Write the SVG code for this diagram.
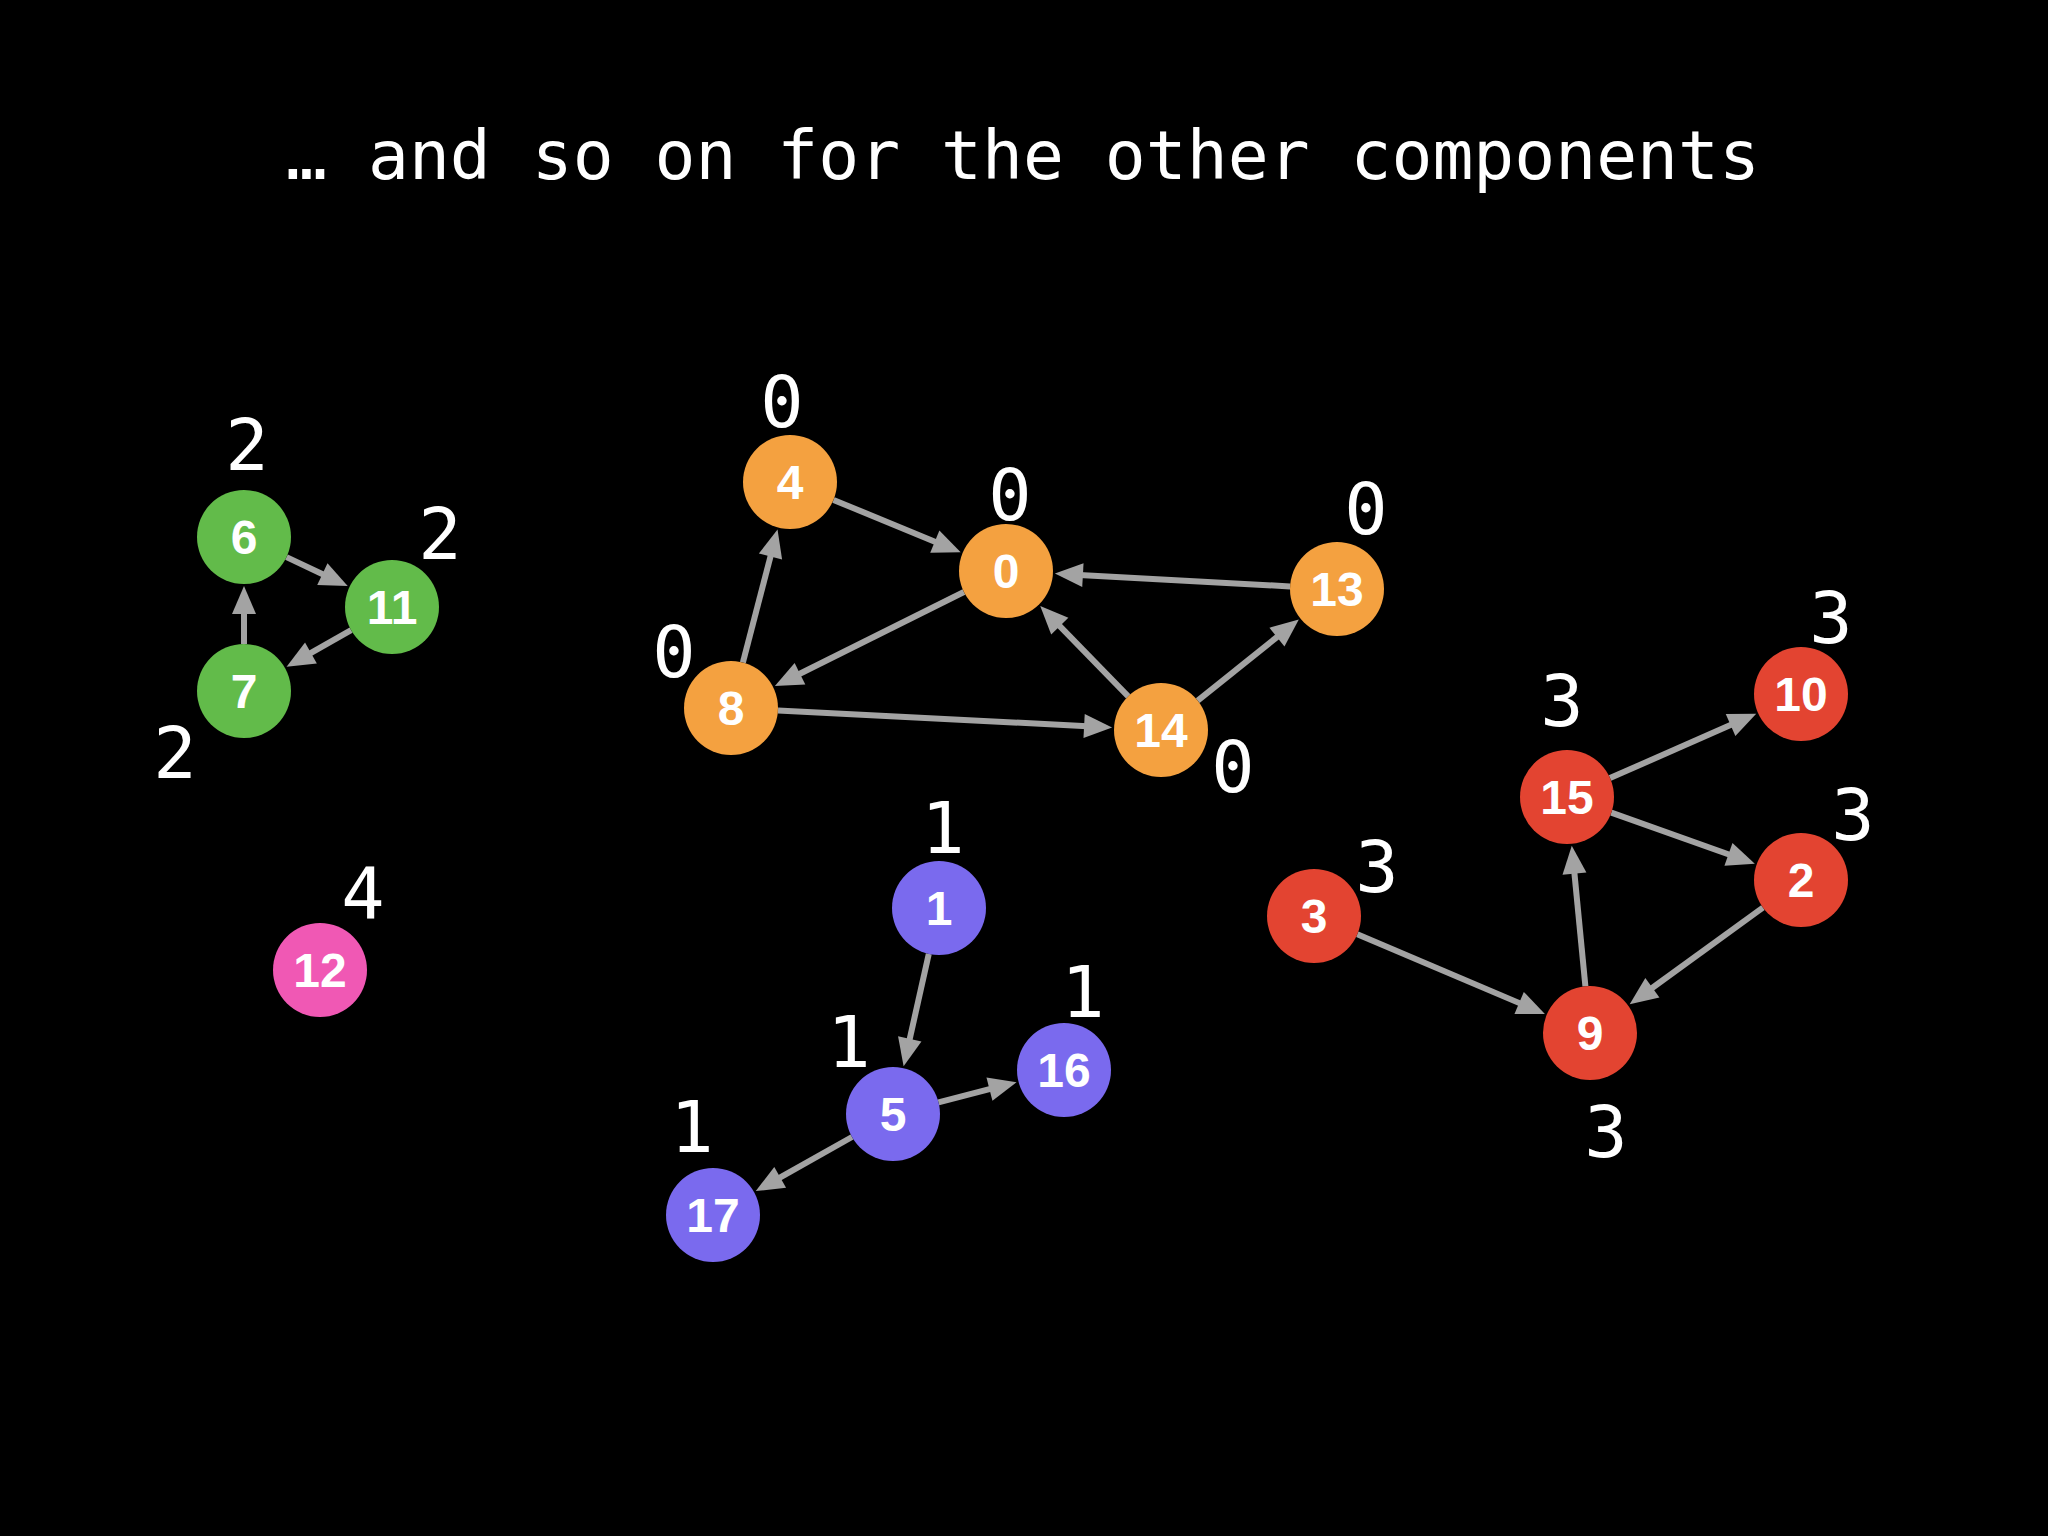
<svg xmlns="http://www.w3.org/2000/svg" width="2048" height="1536" viewBox="0 0 2048 1536">
<style>
.title{font-family:"DejaVu Sans Mono","Liberation Mono",monospace;font-size:68px;fill:#fff;text-anchor:middle}
.cl{font-family:"DejaVu Sans Mono","Liberation Mono",monospace;font-size:72px;fill:#fff;text-anchor:middle}
.nl{font-family:"Liberation Sans",Arial,sans-serif;font-size:48px;font-weight:bold;fill:#fff;text-anchor:middle}
.e{stroke:#a3a3a3;stroke-width:6;fill:none;marker-end:url(#ah)}
.g{fill:#62bb4a}.o{fill:#f4a140}.p{fill:#7a6aee}.r{fill:#e34431}.k{fill:#f058b4}
</style>
<defs>
<marker id="ah" markerUnits="userSpaceOnUse" markerWidth="28" markerHeight="24" refX="8" refY="12" orient="auto" overflow="visible">
<path d="M0,0 L28,12 L0,24 z" fill="#a3a3a3"/>
</marker>
</defs>
<rect width="2048" height="1536" fill="#000"/>
<text class="title" x="1023" y="179">… and so on for the other components</text>
<g id="connectors">
<line class="e" x1="286.5" y1="557.1" x2="329.6" y2="577.5"/>
<line class="e" x1="351.1" y1="630.2" x2="304.0" y2="656.9"/>
<line class="e" x1="244" y1="644" x2="244" y2="606"/>
<line class="e" x1="833.5" y1="499.9" x2="942.2" y2="544.7"/>
<line class="e" x1="963.9" y1="592.0" x2="792.8" y2="677.2"/>
<line class="e" x1="742.9" y1="662.5" x2="772.5" y2="548.8"/>
<line class="e" x1="778.0" y1="710.4" x2="1092.1" y2="726.5"/>
<line class="e" x1="1128.2" y1="696.3" x2="1054.2" y2="620.4"/>
<line class="e" x1="1197.7" y1="700.6" x2="1283.2" y2="632.1"/>
<line class="e" x1="1290.1" y1="586.4" x2="1074.9" y2="574.7"/>
<line class="e" x1="928.8" y1="953.9" x2="908.0" y2="1046.7"/>
<line class="e" x1="938.5" y1="1102.3" x2="997.2" y2="1087.2"/>
<line class="e" x1="852.0" y1="1137.0" x2="773.2" y2="1181.3"/>
<line class="e" x1="1357.3" y1="934.3" x2="1526.5" y2="1006.1"/>
<line class="e" x1="1585.4" y1="986.2" x2="1573.7" y2="865.7"/>
<line class="e" x1="1610.0" y1="778.1" x2="1737.9" y2="721.8"/>
<line class="e" x1="1611.3" y1="812.7" x2="1736.0" y2="857.0"/>
<line class="e" x1="1762.9" y1="907.6" x2="1645.9" y2="992.5"/>
</g>
<g id="node6"><circle class="g" cx="244" cy="537" r="47"/><text class="nl" x="244" y="554">6</text></g>
<g id="node11"><circle class="g" cx="392" cy="607" r="47"/><text class="nl" x="392" y="624">11</text></g>
<g id="node7"><circle class="g" cx="244" cy="691" r="47"/><text class="nl" x="244" y="708">7</text></g>
<g id="node12"><circle class="k" cx="320" cy="970" r="47"/><text class="nl" x="320" y="987">12</text></g>
<g id="node4"><circle class="o" cx="790" cy="482" r="47"/><text class="nl" x="790" y="499">4</text></g>
<g id="node0"><circle class="o" cx="1006" cy="571" r="47"/><text class="nl" x="1006" y="588">0</text></g>
<g id="node13"><circle class="o" cx="1337" cy="589" r="47"/><text class="nl" x="1337" y="606">13</text></g>
<g id="node8"><circle class="o" cx="731" cy="708" r="47"/><text class="nl" x="731" y="725">8</text></g>
<g id="node14"><circle class="o" cx="1161" cy="730" r="47"/><text class="nl" x="1161" y="747">14</text></g>
<g id="node1"><circle class="p" cx="939" cy="908" r="47"/><text class="nl" x="939" y="925">1</text></g>
<g id="node5"><circle class="p" cx="893" cy="1114" r="47"/><text class="nl" x="893" y="1131">5</text></g>
<g id="node16"><circle class="p" cx="1064" cy="1070" r="47"/><text class="nl" x="1064" y="1087">16</text></g>
<g id="node17"><circle class="p" cx="713" cy="1215" r="47"/><text class="nl" x="713" y="1232">17</text></g>
<g id="node3"><circle class="r" cx="1314" cy="916" r="47"/><text class="nl" x="1314" y="933">3</text></g>
<g id="node15"><circle class="r" cx="1567" cy="797" r="47"/><text class="nl" x="1567" y="814">15</text></g>
<g id="node10"><circle class="r" cx="1801" cy="694" r="47"/><text class="nl" x="1801" y="711">10</text></g>
<g id="node2"><circle class="r" cx="1801" cy="880" r="47"/><text class="nl" x="1801" y="897">2</text></g>
<g id="node9"><circle class="r" cx="1590" cy="1033" r="47"/><text class="nl" x="1590" y="1050">9</text></g>
<g id="labels">
<text class="cl" x="247" y="470">2</text>
<text class="cl" x="440" y="559">2</text>
<text class="cl" x="175" y="778">2</text>
<text class="cl" x="363" y="918">4</text>
<text class="cl" x="782" y="427">0</text>
<text class="cl" x="1010" y="520">0</text>
<text class="cl" x="1366" y="534">0</text>
<text class="cl" x="674" y="677">0</text>
<text class="cl" x="1233" y="792">0</text>
<text class="cl" x="943" y="853">1</text>
<text class="cl" x="849" y="1067">1</text>
<text class="cl" x="1083" y="1017">1</text>
<text class="cl" x="692" y="1152">1</text>
<text class="cl" x="1377" y="892">3</text>
<text class="cl" x="1562" y="726">3</text>
<text class="cl" x="1831" y="643">3</text>
<text class="cl" x="1853" y="840">3</text>
<text class="cl" x="1606" y="1157">3</text>
</g>
</svg>
